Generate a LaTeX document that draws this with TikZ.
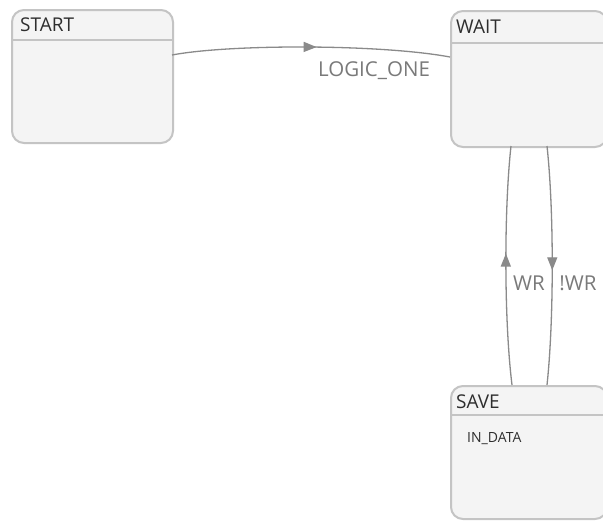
\documentclass[tikz,border=0pt]{standalone}
\usepackage{fontspec}
\setmainfont{Open Sans}
\usetikzlibrary{decorations.markings,arrows.meta}
\definecolor{boxfill}{HTML}{F4F4F4}
\definecolor{boxline}{HTML}{C4C4C4}
\definecolor{wire}{HTML}{8A8A8A}
\definecolor{titletext}{HTML}{2E2E2E}
\definecolor{labeltext}{HTML}{7A7A7A}
\begin{document}
\begin{tikzpicture}[x=1pt,y=-1pt,
  state/.style={draw=boxline,line width=2pt,fill=boxfill,rounded corners=12pt,
    minimum width=#1,inner sep=0pt,anchor=north west},
  title/.style={anchor=west,text=titletext,font=\fontsize{19}{22}\selectfont,inner sep=0pt},
  trans/.style={draw=wire,line width=1.3pt,postaction={decorate},
    decoration={markings,mark=at position #1 with {\arrow{Triangle[width=10pt,length=13pt]}}}},
  lbl/.style={text=labeltext,font=\fontsize{20.5}{24}\selectfont,inner sep=0pt}]
\useasboundingbox (0,0) rectangle (603,520);
\fill[white] (0,0) rectangle (603,520);

% states
\node[state=161pt,minimum height=133pt] (start) at (11,9) {};
\node[state=156pt,minimum height=136pt] (wait) at (450,10) {};
\node[state=156pt,minimum height=133pt] (save) at (450,385) {};

% header separators
\draw[boxline,line width=1.5pt] (start.west |- 0,40) -- (start.east |- 0,40);
\draw[boxline,line width=1.5pt] (wait.west |- 0,43) -- (wait.east |- 0,43);
\draw[boxline,line width=1.5pt] (save.west |- 0,415) -- (save.east |- 0,415);

% titles
\node[title] (tstart) at (20,25) {START};
\node[title] (twait) at (456,27) {WAIT};
\node[title] (tsave) at (456,402) {SAVE};
\node[anchor=west,text=titletext,font=\fontsize{14}{16}\selectfont,inner sep=0pt] (act) at (467,439) {IN\_DATA};

% connection points
\coordinate (s1) at (172,55);
\coordinate (w1) at (450,57);
\coordinate (wb1) at (511,146);
\coordinate (sv1) at (512,385);
\coordinate (wb2) at (547,146);
\coordinate (sv2) at (547,385);

% transitions
\draw[trans=0.52] (s1) .. controls (230,44) and (380,44) .. (w1);
\draw[trans=0.55] (sv1) .. controls (504,320) and (504,210) .. (wb1);
\draw[trans=0.52] (wb2) .. controls (554,210) and (554,320) .. (sv2);

% labels
\node[lbl] (l1) at (374,71) {LOGIC\_ONE};
\node[lbl] (l2) at (529,283) {WR};
\node[lbl] (l3) at (578,283) {!WR};
\end{tikzpicture}
\end{document}
